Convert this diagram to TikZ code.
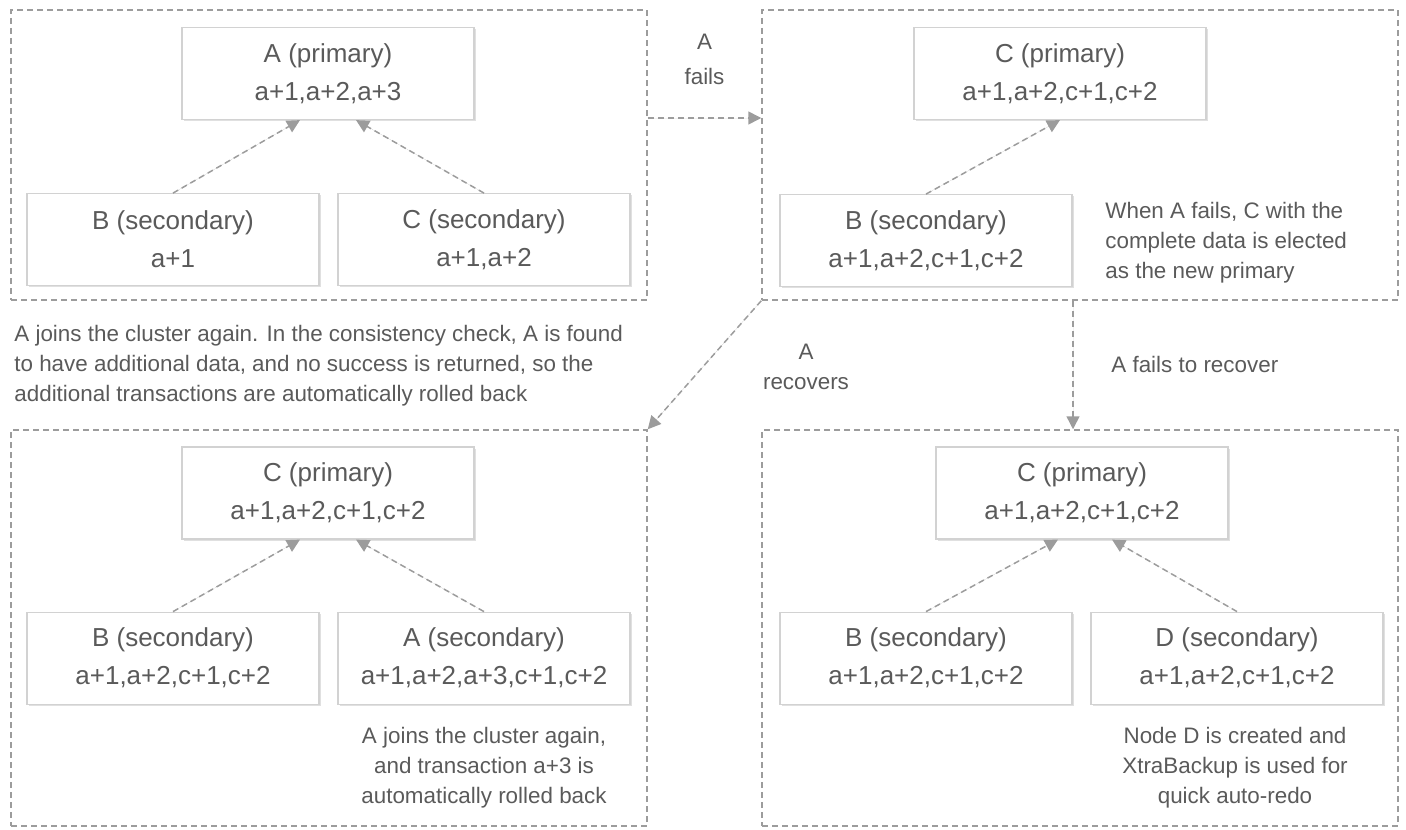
\documentclass[tikz,border=0pt]{standalone}
\usepackage{fontspec}
\setmainfont{Liberation Sans}
\usepackage{tikz}
\usetikzlibrary{arrows.meta,positioning,shadows}

\definecolor{txtgray}{HTML}{5A5A5A}
\definecolor{linegray}{HTML}{9C9C9C}
\definecolor{boxgray}{HTML}{D2D2D2}

\begin{document}
\begin{tikzpicture}[x=0.5pt,y=-0.5pt,>={Triangle[length=6.5pt,width=6.5pt]},
  frame/.style={draw=linegray,line width=0.75pt,dash pattern=on 3pt off 2pt,minimum width=318pt},
  srv/.style={draw=boxgray,fill=white,line width=0.6pt,minimum width=146pt,minimum height=46pt,
    align=center,text=txtgray,font=\fontsize{13}{19}\selectfont,
    drop shadow={shadow xshift=0.8pt,shadow yshift=-0.8pt,fill=black,opacity=0.12}},
  flow/.style={->,draw=linegray,fill=linegray,line width=0.75pt,dash pattern=on 3pt off 2pt},
  note/.style={text=txtgray,font=\fontsize{11.2}{15}\selectfont,inner sep=0pt}]

\useasboundingbox (0,0) rectangle (1406,829);

% panels
\node[frame, minimum height=145pt] (F1) at (329,155) {};
\node[frame, minimum height=145pt] (F2) at (1080,155) {};
\node[frame, minimum height=198pt] (F3) at (329,628) {};
\node[frame, minimum height=198pt] (F4) at (1080,628) {};

% panel 1
\node[srv] (A1) at (328,73.5) {A (primary)\\a+1,a+2,a+3};
\node[srv] (B1) [below=36.5pt of A1, xshift=-77.5pt] {B (secondary)\\a+1};
\node[srv] (C1) [below=36.5pt of A1, xshift=78pt]    {C (secondary)\\a+1,a+2};

% panel 2
\node[srv] (C2) at (1060,73.5) {C (primary)\\a+1,a+2,c+1,c+2};
\node[srv] (B2) [below=37pt of C2, xshift=-67pt] {B (secondary)\\a+1,a+2,c+1,c+2};
\node[note, anchor=west, align=left] (N2) at (1105,243)
  {When A fails, C with the\\complete data is elected\\as the new primary};

% panel 3
\node[srv] (C3) at (328,493) {C (primary)\\a+1,a+2,c+1,c+2};
\node[srv] (B3) [below=36pt of C3, xshift=-77.5pt] {B (secondary)\\a+1,a+2,c+1,c+2};
\node[srv] (A3) [below=36pt of C3, xshift=78pt]    {A (secondary)\\a+1,a+2,a+3,c+1,c+2};
\node[note, align=center] (N3) at (484,768)
  {A joins the cluster again,\\and transaction a+3 is\\automatically rolled back};

% panel 4
\node[srv] (C4) at (1082,493) {C (primary)\\a+1,a+2,c+1,c+2};
\node[srv] (B4) [below=36pt of C4, xshift=-78pt]  {B (secondary)\\a+1,a+2,c+1,c+2};
\node[srv] (D4) [below=36pt of C4, xshift=77.5pt] {D (secondary)\\a+1,a+2,c+1,c+2};
\node[note, align=center] (N4) at (1235,768)
  {Node D is created and\\XtraBackup is used for\\quick auto-redo};

% transitions
\node[note, align=center, font=\fontsize{11.2}{17.5}\selectfont] (Lfail) at (704.5,59.5) {A\\fails};
\node[note, align=center] (Lrec) at (806,367) {A\\recovers};
\node[note, anchor=west] (Lnorec) at (1111,364) {A fails to recover};
\node[note, anchor=west, align=left] (N1) at (14,366)
  {A joins the cluster again. In the consistency check, A is found\\to have additional data, and no success is returned, so the\\additional transactions are automatically rolled back};

\path (B1.north) edge[flow] ([xshift=-14pt]A1.south)
      (C1.north) edge[flow] ([xshift=14pt]A1.south);
\path (B2.north) edge[flow] (C2.south);
\path (B3.north) edge[flow] ([xshift=-14pt]C3.south)
      (A3.north) edge[flow] ([xshift=14pt]C3.south);
\path (B4.north) edge[flow] ([xshift=-12pt]C4.south)
      (D4.north) edge[flow] ([xshift=15pt]C4.south);

\path ([yshift=18.5pt]F1.east) edge[flow] ([yshift=18.5pt]F2.west)
      (F2.south west) edge[flow] (F3.north east)
      ([xshift=-3.5pt]F2.south) edge[flow] ([xshift=-3.5pt]F4.north);
\end{tikzpicture}
\end{document}
